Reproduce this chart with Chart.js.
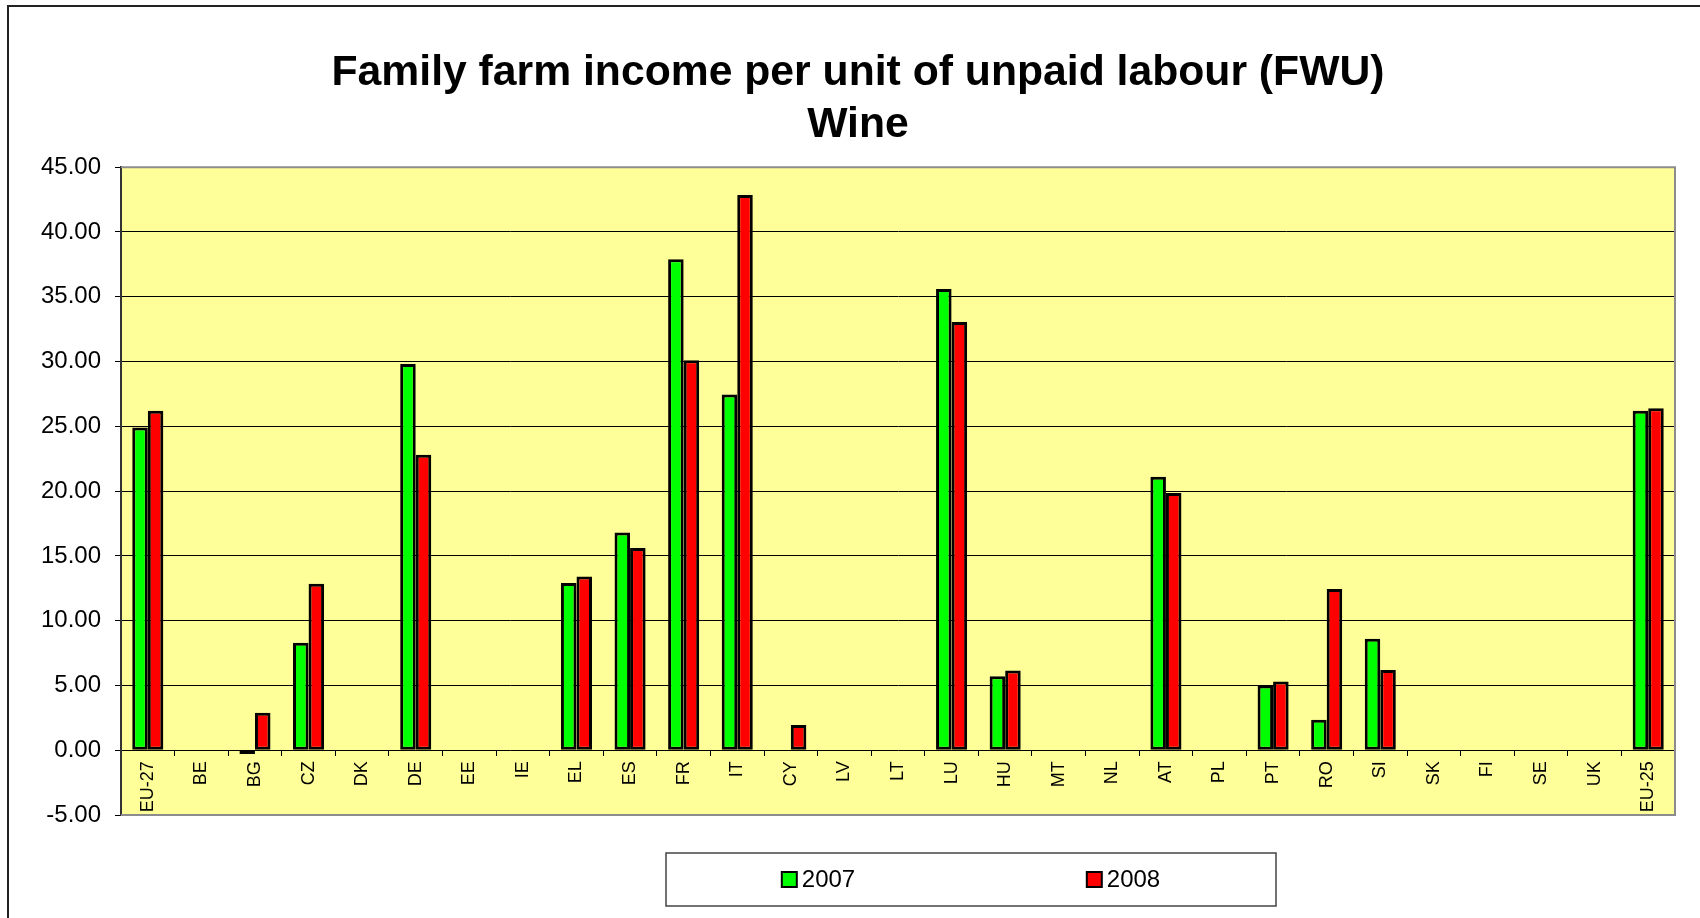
<!DOCTYPE html>
<html>
<head>
<meta charset="utf-8">
<title>Family farm income per unit of unpaid labour (FWU) - Wine</title>
<script src="https://cdn.jsdelivr.net/npm/chart.js@4.4.1/dist/chart.umd.min.js"></script>
<style>
    html, body { margin: 0; padding: 0; background: #fff; overflow: hidden; }
    #frame { position: absolute; left: 7px; top: 5px; width: 1800px; height: 1000px; border: 2px solid #222; }
    #chart { position: absolute; left: 8px; top: 6px; }
</style>
</head>
<body>
<div id="frame"></div>
<canvas id="chart" width="1700" height="912"></canvas>
<script>
// Data
const countries = ["EU-27", "BE", "BG", "CZ", "DK", "DE", "EE", "IE", "EL", "ES", "FR", "IT", "CY", "LV", "LT",
    "LU", "HU", "MT", "NL", "AT", "PL", "PT", "RO", "SI", "SK", "FI", "SE", "UK", "EU-25"];
const values2007 = [24.9, null, -0.3, 8.3, null, 29.8, null, null, 12.9, 16.8, 37.9, 27.45, null, null, null,
    35.6, 5.7, null, null, 21.1, null, 5.0, 2.35, 8.6, null, null, null, null, 26.2];
const values2008 = [26.2, null, 2.9, 12.85, null, 22.8, null, null, 13.4, 15.6, 30.1, 42.85, 1.95, null, null,
    33.05, 6.15, null, null, 19.85, null, 5.3, 12.45, 6.2, null, null, null, null, 26.4];
const yTicks = [-5, 0, 5, 10, 15, 20, 25, 30, 35, 40, 45];
const titleLines = ["Family farm income per unit of unpaid labour (FWU)", "Wine"];

Chart.defaults.font.family = "'Liberation Sans', Arial, sans-serif";
Chart.defaults.color = '#000';

// yellow plot background
const plotBackground = {
    id: 'plotBackground',
    beforeDraw(chart) {
        const { ctx, chartArea: a } = chart;
        ctx.save();
        ctx.fillStyle = '#FFFF99';
        ctx.fillRect(a.left, a.top, a.right - a.left, a.bottom - a.top);
        ctx.restore();
    }
};

// grey border on top, right and bottom of the plot
const plotBorder = {
    id: 'plotBorder',
    afterDatasetsDraw(chart) {
        const { ctx, chartArea: a } = chart;
        ctx.save();
        ctx.strokeStyle = '#8c8c8c';
        ctx.lineWidth = 2;
        ctx.beginPath();
        ctx.moveTo(a.left, a.top);
        ctx.lineTo(a.right, a.top);
        ctx.lineTo(a.right, a.bottom);
        ctx.lineTo(a.left, a.bottom);
        ctx.stroke();
        ctx.restore();
    }
};

// boxed legend below the plot, items centred in equal columns
const boxLegend = {
    id: 'boxLegend',
    afterDraw(chart, args, opts) {
        const { ctx } = chart;
        const sets = chart.data.datasets;
        ctx.save();
        ctx.fillStyle = '#fff';
        ctx.fillRect(opts.left, opts.top, opts.width, opts.height);
        ctx.strokeStyle = '#444';
        ctx.lineWidth = 1.5;
        ctx.strokeRect(opts.left, opts.top, opts.width, opts.height);
        ctx.font = "24px 'Liberation Sans', Arial, sans-serif";
        ctx.textBaseline = 'middle';
        const col = opts.width / sets.length;
        const cy = opts.top + opts.height / 2;
        sets.forEach((ds, i) => {
            const tw = ctx.measureText(ds.label).width;
            const itemW = 15 + 5 + tw;
            const x = opts.left + col * i + (col - itemW) / 2;
            ctx.fillStyle = ds.backgroundColor;
            ctx.fillRect(x, cy - 7.5, 15, 15);
            ctx.strokeStyle = '#000';
            ctx.lineWidth = 2;
            ctx.strokeRect(x, cy - 7.5, 15, 15);
            ctx.fillStyle = '#000';
            ctx.fillText(ds.label, x + 20, cy + 1);
        });
        ctx.restore();
    }
};

const ctx = document.getElementById('chart').getContext('2d');
new Chart(ctx, {
    type: 'bar',
    data: {
        labels: countries,
        datasets: [
            { label: '2007', data: values2007, backgroundColor: '#00FF00', borderColor: '#000', borderWidth: 3, borderSkipped: false },
            { label: '2008', data: values2008, backgroundColor: '#FF0000', borderColor: '#000', borderWidth: 3, borderSkipped: false }
        ]
    },
    options: {
        responsive: false,
        animation: false,
        devicePixelRatio: 1,
        categoryPercentage: 0.58,
        barPercentage: 1,
        layout: { padding: { left: 0, right: 0, top: 0, bottom: 103 } },
        plugins: {
            legend: { display: false },
            tooltip: { enabled: false },
            title: {
                display: true,
                text: titleLines,
                color: '#000',
                font: { size: 42.7, weight: 'bold', lineHeight: 1.22 },
                padding: { top: 41, bottom: 16 }
            },
            boxLegend: { left: 658, top: 847, width: 610, height: 53 }
        },
        scales: {
            x: {
                position: { y: 0 },
                afterFit: (scale) => { scale.height = 0; },
                grid: { offset: true, drawOnChartArea: false, drawTicks: true, tickLength: 6, color: '#000' },
                border: { display: false },
                ticks: { autoSkip: false, minRotation: 90, maxRotation: 90, padding: 5, font: { size: 18 }, color: '#000' }
            },
            y: {
                min: -5,
                max: 45,
                afterFit: (scale) => { scale.width = 113; },
                afterBuildTicks: (scale) => { scale.ticks = yTicks.map(v => ({ value: v })); },
                grid: {
                    color: (c) => (c.tick && (c.tick.value === 45 || c.tick.value === -5)) ? 'rgba(0,0,0,0)' : '#000',
                    lineWidth: 1,
                    tickLength: 6,
                    tickColor: '#000'
                },
                border: { display: true, color: '#333', width: 2 },
                ticks: { padding: 14, font: { size: 24 }, color: '#000', callback: (v) => Number(v).toFixed(2) }
            },
            // empty right-hand axis that only reserves the space right of the plot
            yRight: {
                position: 'right',
                min: -5,
                max: 45,
                afterFit: (scale) => { scale.width = 33; },
                grid: { drawOnChartArea: false, drawTicks: false },
                border: { display: false },
                ticks: { display: false }
            }
        }
    },
    plugins: [plotBackground, plotBorder, boxLegend]
});
</script>
</body>
</html>
